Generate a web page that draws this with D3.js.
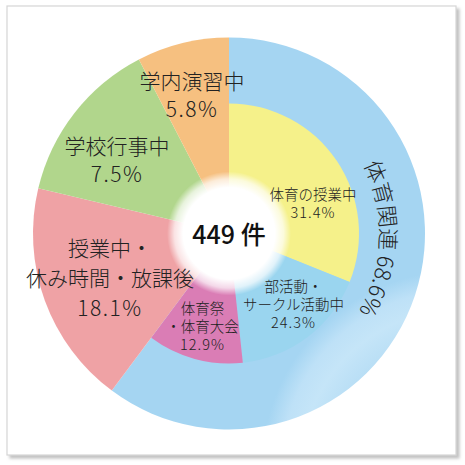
<!DOCTYPE html>
<html><head><meta charset="utf-8">
<script src="https://cdn.jsdelivr.net/npm/d3@7/dist/d3.min.js"></script>
<style>html,body{margin:0;padding:0;background:#fff;}svg{display:block;}</style>
</head><body>
<svg id="c" width="465" height="465"></svg>
<script>
// ---- data ----
const outerCategories = ["体育関連", "授業中・休み時間・放課後", "学校行事中", "学内演習中"];
const outerPercentLabels = ["68.6%", "18.1%", "7.5%", "5.8%"];
// slice sizes as drawn in the picture (share of the circle, %)
const outerDrawnShare = [60.2, 18.5, 13.7, 7.6];
const innerCategories = ["体育の授業中", "部活動・サークル活動中", "体育祭・体育大会"];
const innerPercentLabels = ["31.4%", "24.3%", "12.9%"];
const innerDrawnShare = [31.1, 17.2, 11.9];
const totalLabel = "449 件";

// ---- layout / style ----
const W = 465, H = 465, cx = 229, cy = 233.5, R = 196, r1 = 130;
const svg = d3.select("#c");
const defs = svg.append("defs");
const FONT = "'Noto Sans CJK JP','Noto Sans',sans-serif";

const sh = defs.append("filter").attr("id","sh").attr("x","-5%").attr("y","-5%").attr("width","112%").attr("height","112%");
sh.append("feDropShadow").attr("dx",3).attr("dy",3).attr("stdDeviation",1.8).attr("flood-color","#9a9a9a").attr("flood-opacity",0.6);
svg.append("rect").attr("x",7).attr("y",6).attr("width",449).attr("height",449)
  .attr("fill","#fff").attr("stroke","#d6d6d6").attr("stroke-width",1.2).attr("filter","url(#sh)");

const outerGrad = [
  [[0,"#bde0f6"],[0.66,"#b8def5"],[0.8,"#c5e5f8"],[0.9,"#bee1f7"],[1,"#a5d5f2"]],
  [[0,"#f8bebe"],[0.85,"#f6b7b8"],[1,"#efa2a5"]],
  [[0,"#d1e6b2"],[0.85,"#c7e1a6"],[1,"#b1d68c"]],
  [[0,"#fbd9aa"],[0.85,"#f9d09b"],[1,"#f6c080"]]
];
outerGrad.forEach((stops,i)=>{
  const g = defs.append("radialGradient").attr("id","og"+i).attr("gradientUnits","userSpaceOnUse")
    .attr("cx",cx).attr("cy",cy).attr("r",R);
  stops.forEach(s=>g.append("stop").attr("offset",s[0]).attr("stop-color",s[1]));
});
const innerColors = ["#f5f18a","#9ad5ef","#da7db5"];

const g = svg.append("g").attr("transform",`translate(${cx},${cy})`);
const outerPie = d3.pie().sort(null).value(d=>d)(outerDrawnShare);
const arcOuter = d3.arc().innerRadius(0).outerRadius(R);
g.selectAll("path.o").data(outerPie).join("path").attr("class","o")
  .attr("d",arcOuter).attr("fill",(d,i)=>`url(#og${i})`);

const blueEnd = outerPie[0].endAngle;
const innerPie = d3.pie().sort(null).startAngle(0).endAngle(blueEnd).value(d=>d)(innerDrawnShare);
const arcInner = d3.arc().innerRadius(0).outerRadius(r1);
g.selectAll("path.i").data(innerPie).join("path").attr("class","i")
  .attr("d",arcInner).attr("fill",(d,i)=>innerColors[i]);

// white glow center
const wg = defs.append("radialGradient").attr("id","wg");
[[0,1],[0.74,1],[0.88,0.7],[1,0]].forEach(s=>wg.append("stop").attr("offset",s[0]).attr("stop-color","#fff").attr("stop-opacity",s[1]));
g.append("circle").attr("r",62).attr("fill","url(#wg)");

g.append("text").attr("x",0).attr("y",-1).attr("text-anchor","middle").attr("dominant-baseline","central")
  .attr("font-family",FONT).attr("font-size",25).attr("font-weight",500).attr("fill","#111").text(totalLabel);

// labels (one text element per label, lines as tspans)
const labelLayout = [
  {lines:["学内演習中", outerPercentLabels[3]], x:192, ys:[80,108], fs:21},
  {lines:["学校行事中", outerPercentLabels[2]], x:117, ys:[145,173], fs:21},
  {lines:["授業中・","休み時間・放課後", outerPercentLabels[1]], x:110, ys:[247,277,307], fs:21},
  {lines:["体育の授業中", innerPercentLabels[0]], x:313, ys:[193,211], fs:14.5},
  {lines:["部活動・","サークル活動中", innerPercentLabels[1]], x:293.5, ys:[285,303,321], fs:14.5},
  {lines:["体育祭","・体育大会", innerPercentLabels[2]], x:202.5, ys:[307,325,343], fs:14.5}
];
labelLayout.forEach(L=>{
  const t = svg.append("text").attr("text-anchor","middle").attr("font-family",FONT)
    .attr("font-size",L.fs).attr("font-weight",300).attr("fill","#222");
  L.lines.forEach((s,k)=>{
    const isPct = /%$/.test(s);
    t.append("tspan").attr("x",L.x).attr("y",L.ys[k]).attr("dominant-baseline","central")
      .attr("letter-spacing",isPct ? (L.fs>18?1.5:1) : 0).text(s);
  });
});

// curved label along ring
const rb = 151;
const pt = a => [rb*Math.sin(a), -rb*Math.cos(a)];
const a0 = 2*Math.PI/180, a1 = 182*Math.PI/180;
const p0 = pt(a0), p1 = pt(a1);
defs.append("path").attr("id","ringPath")
  .attr("d",`M${cx+p0[0]},${cy+p0[1]} A${rb},${rb} 0 0 1 ${cx+p1[0]},${cy+p1[1]}`);
svg.append("text").attr("font-family",FONT).attr("font-size",22).attr("font-weight",300).attr("fill","#222")
  .append("textPath").attr("href","#ringPath").attr("startOffset","50%").attr("text-anchor","middle")
  .text(outerCategories[0] + " " + outerPercentLabels[0]);
</script>
</body></html>
